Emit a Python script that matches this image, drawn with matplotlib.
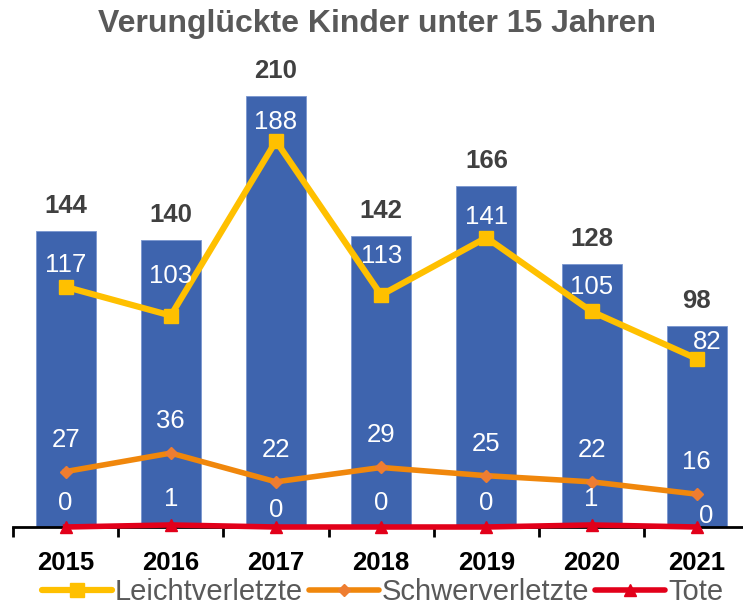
import matplotlib

matplotlib.use("Agg")
import matplotlib.pyplot as plt
import numpy as np

plt.rcParams.update({"font.family": ["Liberation Sans", "DejaVu Sans"]})

years = ["2015", "2016", "2017", "2018", "2019", "2020", "2021"]
total = [144, 140, 210, 142, 166, 128, 98]
leicht = [117, 103, 188, 113, 141, 105, 82]
schwer = [27, 36, 22, 29, 25, 22, 16]
tote = [0, 1, 0, 0, 0, 1, 0]

# label offsets in pixels (dx, dy)
leicht_off = [(0, 22), (0, 40), (0, 19), (0, 39), (0, 21), (0, 24), (10, 17)]
schwer_off = [(0, 32)] * 7
tote_off = [(0, 24), (0, 26), (0, 17), (0, 24), (0, 24), (0, 26), (9, 11)]

C_BAR = "#3E64AE"
C_LEICHT = "#FFC000"
C_SCHWER = "#F0870C"
C_SCHWER_M = "#EE7D31"
C_TOTE = "#E2001A"
C_GREY = "#595959"

fig = plt.figure(figsize=(7.43, 6.07), dpi=100)
ax = fig.add_axes([0.0175, 0.1318, 0.991, 0.771])
x = np.arange(len(years))

ax.bar(x, total, 0.57, color=C_BAR, edgecolor="#7a96cf", lw=0.6, zorder=1)
ax.plot(x, leicht, color=C_LEICHT, lw=4.5, marker="s", ms=10, zorder=3,
        label="Leichtverletzte", clip_on=False)
ax.plot(x, schwer, color=C_SCHWER, lw=4, marker="D", ms=6, mfc=C_SCHWER_M,
        mec=C_SCHWER_M, zorder=3, label="Schwerverletzte", clip_on=False)
ax.plot(x, tote, color=C_TOTE, lw=4, marker="^", ms=9, zorder=4,
        label="Tote", clip_on=False)

for xi, v in zip(x, total):
    ax.annotate(str(v), (xi, v), xytext=(0, 25), textcoords="offset pixels",
                ha="center", va="center", fontsize=18.5, fontweight="bold", color="#404040")
for series, offs in ((leicht, leicht_off), (schwer, schwer_off), (tote, tote_off)):
    for xi, v, (dx, dy) in zip(x, series, offs):
        ax.annotate(str(v), (xi, v), xytext=(dx, dy), textcoords="offset pixels",
                    ha="center", va="center", fontsize=18.5, color="white", zorder=5)

ax.set_xlim(-0.5, 6.5)
ax.set_ylim(0, 228)
ax.set_yticks([])
for s in ("left", "right", "top"):
    ax.spines[s].set_visible(False)
ax.spines["bottom"].set_linewidth(2)
ax.spines["bottom"].set_zorder(2)
ax.set_xticks(x, years)
ax.tick_params(axis="x", which="major", length=0, pad=17, labelsize=18.5)
for t in ax.get_xticklabels():
    t.set_fontweight("bold")
ax.set_xticks(np.arange(-0.5, 7, 1), minor=True)
ax.tick_params(axis="x", which="minor", length=7, width=2, direction="out")

fig.suptitle("Verunglückte Kinder unter 15 Jahren", x=0.507, y=0.985, va="top",
             fontsize=23, fontweight="bold", color=C_GREY)

leg = fig.legend(loc="lower center", bbox_to_anchor=(0.515, -0.042), ncol=3, frameon=False,
                 fontsize=21, handlelength=2.4, handletextpad=0.1, columnspacing=0.2)
for t in leg.get_texts():
    t.set_color(C_GREY)
for h in leg.get_lines():
    h.set_solid_capstyle("round")

fig.savefig("out.png", dpi=100)
